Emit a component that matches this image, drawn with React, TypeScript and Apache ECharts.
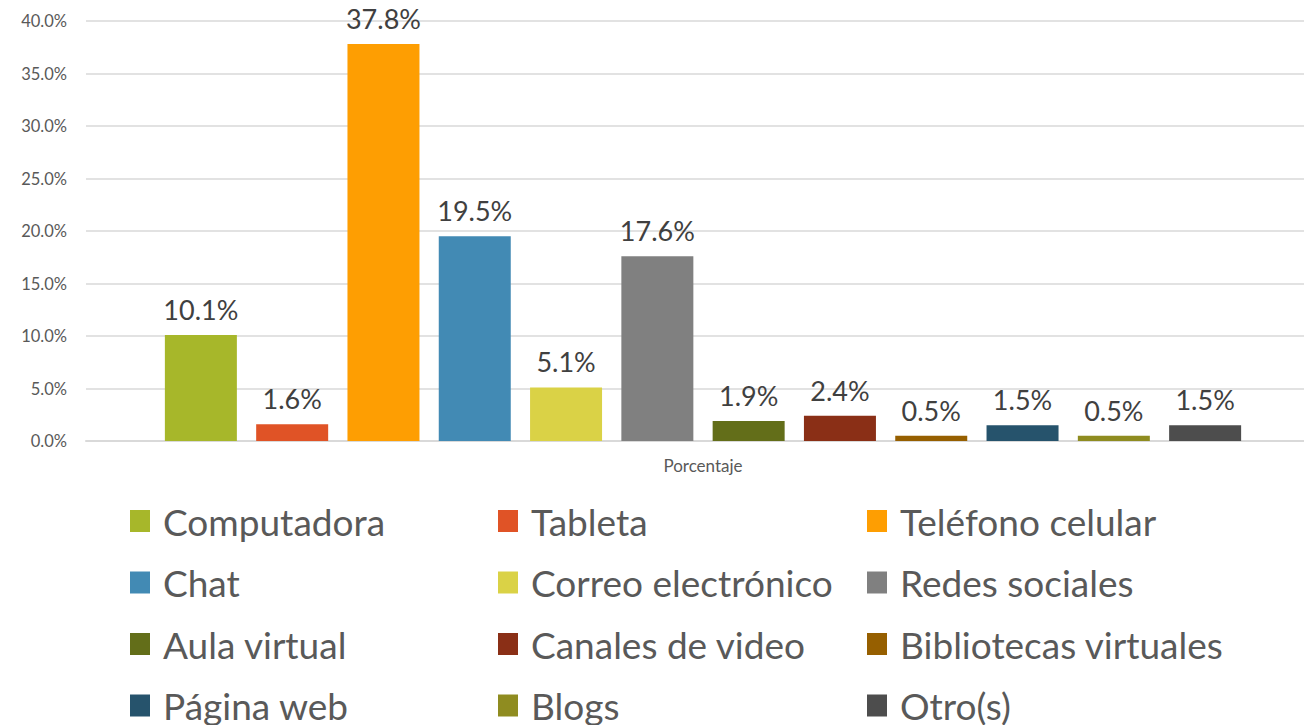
import React, { useEffect, useRef } from "react";
import * as echarts from "echarts";

const categories = ["Porcentaje"];
const seriesNames = [
  "Computadora",
  "Tableta",
  "Teléfono celular",
  "Chat",
  "Correo electrónico",
  "Redes sociales",
  "Aula virtual",
  "Canales de video",
  "Bibliotecas virtuales",
  "Página web",
  "Blogs",
  "Otro(s)",
];
const seriesValues = [10.1, 1.6, 37.8, 19.5, 5.1, 17.6, 1.9, 2.4, 0.5, 1.5, 0.5, 1.5];
const seriesColors = [
  "#A7B72A",
  "#E05326",
  "#FE9E02",
  "#428AB4",
  "#DAD246",
  "#808080",
  "#636E19",
  "#8A2F16",
  "#965F00",
  "#26536C",
  "#8F8C20",
  "#4D4D4D",
];
const legendColumns = [
  ["Computadora", "Chat", "Aula virtual", "Página web"],
  ["Tableta", "Correo electrónico", "Canales de video", "Blogs"],
  ["Teléfono celular", "Redes sociales", "Bibliotecas virtuales", "Otro(s)"],
];
const legendLefts = [130, 498, 867];

const FONT = "Lato, 'Noto Sans', sans-serif";

export default function App() {
  const ref = useRef<HTMLDivElement>(null);
  useEffect(() => {
    document.body.style.margin = "0";
    const chart = echarts.init(ref.current!, null, { renderer: "svg" });
    chart.setOption({
      animation: false,
      backgroundColor: "#ffffff",
      textStyle: { fontFamily: FONT },
      grid: { left: 86, top: 21, width: 1234, height: 420, containLabel: false },
      legend: legendColumns.map((col, i) => ({
        orient: "vertical",
        left: legendLefts[i],
        top: 501,
        height: 300,
        padding: 0,
        data: col,
        icon: "rect",
        itemWidth: 20,
        itemHeight: 22,
        itemGap: 21.5,
        selectedMode: false,
        textStyle: {
          fontFamily: FONT,
          fontSize: 37,
          color: "#595959",
          lineHeight: 40,
          padding: [0, 0, 0, 8],
        },
      })),
      xAxis: {
        type: "category",
        data: categories,
        axisTick: { show: false },
        axisLine: { lineStyle: { color: "#D9D9D9", width: 2 } },
        axisLabel: { color: "#595959", fontSize: 17, margin: 16, fontFamily: FONT },
      },
      yAxis: {
        type: "value",
        min: 0,
        max: 40,
        interval: 5,
        axisLine: { show: false },
        axisTick: { show: false },
        splitLine: { lineStyle: { color: "#D9D9D9", width: 1.5 } },
        axisLabel: {
          color: "#595959",
          fontSize: 16.5,
          margin: 19,
          fontFamily: FONT,
          formatter: (v: number) => v.toFixed(1) + "%",
        },
      },
      series: seriesNames.map((name, i) => ({
        name,
        type: "bar",
        data: [seriesValues[i]],
        barWidth: 72,
        barGap: "26.8%",
        itemStyle: { color: seriesColors[i] },
        label: {
          show: true,
          position: "top",
          distance: 12,
          fontSize: 27,
          color: "#404040",
          fontFamily: FONT,
          formatter: (p: any) => p.value.toFixed(1) + "%",
        },
      })),
    });
    return () => chart.dispose();
  }, []);
  return (
    <div style={{ position: "absolute", left: 0, top: 0, width: 1304, height: 725, overflow: "hidden" }}>
      <div ref={ref} style={{ width: 1320, height: 725 }} />
    </div>
  );
}
